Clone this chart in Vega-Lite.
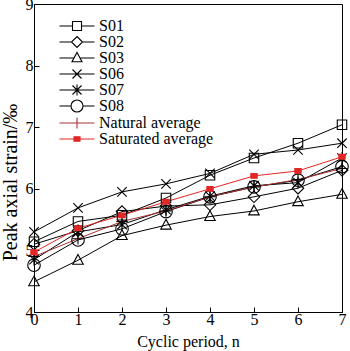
{
  "$schema": "https://vega.github.io/schema/vega-lite/v6.json",
  "width": 308,
  "height": 308,
  "autosize": {"type": "none"},
  "padding": {"left": 34, "top": 4, "right": 8, "bottom": 39},
  "background": "white",
  "config": {
    "view": {"stroke": "black", "strokeWidth": 1},
    "font": "Liberation Serif",
    "axis": {
      "grid": false,
      "domainColor": "black",
      "tickColor": "black",
      "labelColor": "black",
      "titleColor": "black",
      "labelFont": "Liberation Serif",
      "titleFont": "Liberation Serif",
      "labelFontSize": 16,
      "titleFontSize": 16,
      "titleFontWeight": "normal",
      "tickSize": -5,
      "labelFlush": false,
      "labelOverlap": false
    }
  },
  "data": {
    "values": [
      {"series": "S01", "n": 0, "v": 5.14}, {"series": "S01", "n": 1, "v": 5.47}, {"series": "S01", "n": 2, "v": 5.57}, {"series": "S01", "n": 3, "v": 5.85},
      {"series": "S01", "n": 4, "v": 6.22}, {"series": "S01", "n": 5, "v": 6.5}, {"series": "S01", "n": 6, "v": 6.74}, {"series": "S01", "n": 7, "v": 7.04},
      {"series": "S02", "n": 0, "v": 5.1}, {"series": "S02", "n": 1, "v": 5.32}, {"series": "S02", "n": 2, "v": 5.63}, {"series": "S02", "n": 3, "v": 5.72},
      {"series": "S02", "n": 4, "v": 5.74}, {"series": "S02", "n": 5, "v": 5.87}, {"series": "S02", "n": 6, "v": 6.01}, {"series": "S02", "n": 7, "v": 6.3},
      {"series": "S03", "n": 0, "v": 4.49}, {"series": "S03", "n": 1, "v": 4.84}, {"series": "S03", "n": 2, "v": 5.24}, {"series": "S03", "n": 3, "v": 5.41},
      {"series": "S03", "n": 4, "v": 5.55}, {"series": "S03", "n": 5, "v": 5.64}, {"series": "S03", "n": 6, "v": 5.79}, {"series": "S03", "n": 7, "v": 5.91},
      {"series": "S06", "n": 0, "v": 5.3}, {"series": "S06", "n": 1, "v": 5.69}, {"series": "S06", "n": 2, "v": 5.95}, {"series": "S06", "n": 3, "v": 6.08},
      {"series": "S06", "n": 4, "v": 6.25}, {"series": "S06", "n": 5, "v": 6.56}, {"series": "S06", "n": 6, "v": 6.63}, {"series": "S06", "n": 7, "v": 6.74},
      {"series": "S07", "n": 0, "v": 4.85}, {"series": "S07", "n": 1, "v": 5.3}, {"series": "S07", "n": 2, "v": 5.42}, {"series": "S07", "n": 3, "v": 5.66},
      {"series": "S07", "n": 4, "v": 5.88}, {"series": "S07", "n": 5, "v": 6.05}, {"series": "S07", "n": 6, "v": 6.1}, {"series": "S07", "n": 7, "v": 6.5},
      {"series": "S08", "n": 0, "v": 4.76}, {"series": "S08", "n": 1, "v": 5.17}, {"series": "S08", "n": 2, "v": 5.35}, {"series": "S08", "n": 3, "v": 5.63},
      {"series": "S08", "n": 4, "v": 5.87}, {"series": "S08", "n": 5, "v": 6.03}, {"series": "S08", "n": 6, "v": 6.14}, {"series": "S08", "n": 7, "v": 6.36},
      {"series": "Natural average", "n": 0, "v": 4.9}, {"series": "Natural average", "n": 1, "v": 5.19}, {"series": "Natural average", "n": 2, "v": 5.47}, {"series": "Natural average", "n": 3, "v": 5.64},
      {"series": "Natural average", "n": 4, "v": 5.87}, {"series": "Natural average", "n": 5, "v": 6.03}, {"series": "Natural average", "n": 6, "v": 6.15}, {"series": "Natural average", "n": 7, "v": 6.33},
      {"series": "Saturated average", "n": 0, "v": 4.97}, {"series": "Saturated average", "n": 1, "v": 5.36}, {"series": "Saturated average", "n": 2, "v": 5.57}, {"series": "Saturated average", "n": 3, "v": 5.79},
      {"series": "Saturated average", "n": 4, "v": 6.0}, {"series": "Saturated average", "n": 5, "v": 6.21}, {"series": "Saturated average", "n": 6, "v": 6.29}, {"series": "Saturated average", "n": 7, "v": 6.52}
    ]
  },
  "encoding": {
    "x": {
      "field": "n", "type": "quantitative",
      "scale": {"domain": [0, 7], "nice": false, "zero": false},
      "axis": {"title": "Cyclic period, n", "values": [0, 1, 2, 3, 4, 5, 6, 7], "labelPadding": 4, "titlePadding": 6}
    },
    "y": {
      "field": "v", "type": "quantitative",
      "scale": {"domain": [4, 9], "nice": false, "zero": false},
      "axis": {"title": "Peak axial strain/‰", "values": [4, 5, 6, 7, 8, 9], "labelPadding": 6, "titleFontSize": 20, "titleX": -14, "titleY": 178, "titleBaseline": "bottom", "titleAngle": 270}
    }
  },
  "layer": [
    {
      "mark": {"type": "line", "strokeWidth": 1},
      "encoding": {
        "color": {
          "field": "series", "type": "nominal",
          "scale": {
            "domain": ["S01", "S02", "S03", "S06", "S07", "S08", "Natural average", "Saturated average"],
            "range": ["black", "black", "black", "black", "black", "black", "#a83232", "#e32626"]
          },
          "legend": null
        }
      }
    },
    {
      "mark": {"type": "point", "size": 110, "strokeWidth": 1.1, "opacity": 1},
      "encoding": {
        "shape": {
          "field": "series", "type": "nominal",
          "scale": {
            "domain": ["S01", "S02", "S03", "S06", "S07", "S08", "Natural average", "Saturated average"],
            "range": [
              "M-0.9,-0.9H0.9V0.9H-0.9Z",
              "M0,-1.1L1.1,0L0,1.1L-1.1,0Z",
              "M0,-1.1L1,0.75L-1,0.75Z",
              "M-0.9,-0.9L0.9,0.9M-0.9,0.9L0.9,-0.9",
              "M-0.9,-0.9L0.9,0.9M-0.9,0.9L0.9,-0.9M0,-1.1V1.1",
              "M-1.2,0A1.2,1.2,0,1,0,1.2,0A1.2,1.2,0,1,0,-1.2,0Z",
              "M-1.1,0H1.1M0,-1.1V1.1",
              "M-0.6,-0.45H0.6V0.45H-0.6Z"
            ]
          },
          "legend": null
        },
        "stroke": {"condition": {"test": "datum.series === 'Saturated average'", "value": "#e32626"}, "value": "black"},
        "fill": {"condition": {"test": "datum.series === 'Saturated average'", "value": "#e32626"}, "value": "transparent"}
      }
    },
    {
      "transform": [{"filter": "datum.n < 0"}],
      "mark": {"type": "point", "size": 100, "strokeWidth": 1.1, "opacity": 1},
      "encoding": {
        "shape": {
          "field": "series", "type": "nominal",
          "scale": {
            "domain": ["S01", "S02", "S03", "S06", "S07", "S08", "Natural average", "Saturated average"],
            "range": [
              "M-3.5,0H-0.9M0.9,0H3.5M-0.9,-0.9H0.9V0.9H-0.9Z",
              "M-3.5,0H-1.1M1.1,0H3.5M0,-1.1L1.1,0L0,1.1L-1.1,0Z",
              "M-3.5,0H-0.6M0.6,0H3.5M0,-1.1L1,0.75L-1,0.75Z",
              "M-3.5,0H3.5M-0.9,-0.9L0.9,0.9M-0.9,0.9L0.9,-0.9",
              "M-3.5,0H3.5M-0.9,-0.9L0.9,0.9M-0.9,0.9L0.9,-0.9M0,-1.1V1.1",
              "M-3.5,0H-1.2M1.2,0H3.5M-1.2,0A1.2,1.2,0,1,0,1.2,0A1.2,1.2,0,1,0,-1.2,0Z",
              "M-3.5,0H3.5M0,-1.1V1.1",
              "M-3.5,0H3.5M-0.6,-0.45H0.6V0.45H-0.6Z"
            ]
          },
          "legend": {
            "title": null,
            "orient": "none",
            "legendX": 35,
            "legendY": 14,
            "padding": 0,
            "labelFont": "Liberation Serif",
            "labelFontSize": 16,
            "labelColor": "black",
            "labelOffset": 14,
            "symbolSize": 100,
            "symbolStrokeWidth": 1.1,
            "rowPadding": -2,
            "labelLimit": 300
          }
        },
        "stroke": {
          "field": "series", "type": "nominal",
          "scale": {
            "domain": ["S01", "S02", "S03", "S06", "S07", "S08", "Natural average", "Saturated average"],
            "range": ["black", "black", "black", "black", "black", "black", "#a83232", "#e32626"]
          }
        },
        "fill": {
          "field": "series", "type": "nominal",
          "scale": {
            "domain": ["S01", "S02", "S03", "S06", "S07", "S08", "Natural average", "Saturated average"],
            "range": ["transparent", "transparent", "transparent", "transparent", "transparent", "transparent", "transparent", "#e32626"]
          }
        }
      }
    }
  ],
  "resolve": {"scale": {"shape": "independent", "stroke": "independent", "fill": "independent"}}
}
